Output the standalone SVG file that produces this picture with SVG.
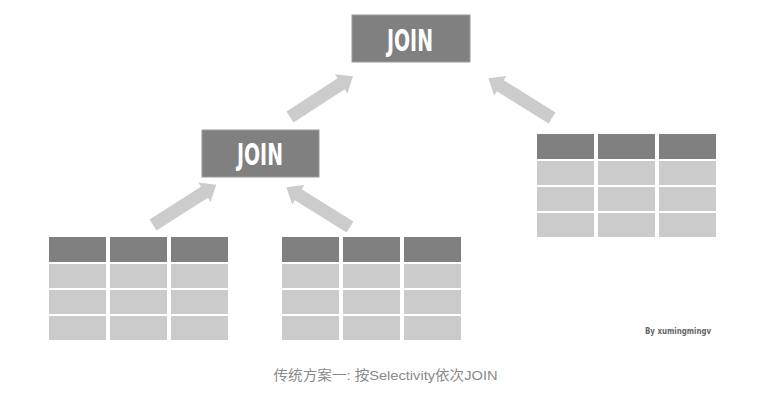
<svg xmlns="http://www.w3.org/2000/svg" xmlns:xlink="http://www.w3.org/1999/xlink" width="774" height="404" viewBox="0 0 774 404">
  <style>
    .hd { fill: #808080; }
    .bd { fill: #cbcbcb; }
    .box { fill: #808080; stroke: #9a9a9a; stroke-width: 1; }
    .jt { fill: #ffffff; font-family: "DejaVu Sans Condensed", "Liberation Sans Narrow", "Liberation Sans", sans-serif; font-weight: bold; font-size: 30px; text-anchor: middle; }
    .arr { fill: #cccccc; }
    .cap { fill: #8a8a8a; font-family: "Liberation Sans", "Noto Sans CJK SC", sans-serif; font-size: 13.5px; }
    .wm { fill: #666666; font-family: "DejaVu Sans Condensed", "Liberation Sans Narrow", sans-serif; font-weight: bold; font-size: 9px; }
  </style>
  <defs>
    <path id="arrow" d="M0,-6.5 H61 V-11.5 L75,0 L61,11.5 V6.5 H0 Z"/>
    <g id="table">
      <rect class="hd" x="0" y="0" width="57" height="25"/>
      <rect class="hd" x="61" y="0" width="57" height="25"/>
      <rect class="hd" x="122" y="0" width="57" height="25"/>
      <rect class="bd" x="0" y="27" width="57" height="24"/>
      <rect class="bd" x="61" y="27" width="57" height="24"/>
      <rect class="bd" x="122" y="27" width="57" height="24"/>
      <rect class="bd" x="0" y="53" width="57" height="24"/>
      <rect class="bd" x="61" y="53" width="57" height="24"/>
      <rect class="bd" x="122" y="53" width="57" height="24"/>
      <rect class="bd" x="0" y="79" width="57" height="24"/>
      <rect class="bd" x="61" y="79" width="57" height="24"/>
      <rect class="bd" x="122" y="79" width="57" height="24"/>
    </g>
  </defs>
  <rect width="774" height="404" fill="#ffffff"/>

  <g id="connectors">
    <use xlink:href="#arrow" href="#arrow" class="arr" transform="translate(153,225) rotate(-32.5)"/>
    <use xlink:href="#arrow" href="#arrow" class="arr" transform="translate(350,227) rotate(-148)"/>
    <use xlink:href="#arrow" href="#arrow" class="arr" transform="translate(290,117) rotate(-33)"/>
    <use xlink:href="#arrow" href="#arrow" class="arr" transform="translate(552,118) rotate(-148)"/>
  </g>

  <g id="join-top">
    <rect class="box" x="352" y="15" width="118" height="47"/>
    <text class="jt" x="410" y="50.5" textLength="46" lengthAdjust="spacingAndGlyphs">JOIN</text>
  </g>
  <g id="join-mid">
    <rect class="box" x="202" y="130" width="117" height="47"/>
    <text class="jt" x="260" y="165" textLength="46" lengthAdjust="spacingAndGlyphs">JOIN</text>
  </g>

  <g id="table-left">
    <use xlink:href="#table" href="#table" transform="translate(49,237)"/>
  </g>
  <g id="table-mid">
    <use xlink:href="#table" href="#table" transform="translate(282,237)"/>
  </g>
  <g id="table-right">
    <use xlink:href="#table" href="#table" transform="translate(537,134)"/>
  </g>

  <text class="wm" x="645" y="333.5" textLength="66" lengthAdjust="spacingAndGlyphs">By xumingmingv</text>
  <text class="cap" x="273.5" y="379.5" textLength="224" lengthAdjust="spacingAndGlyphs">传统方案一: 按Selectivity依次JOIN</text>
</svg>
